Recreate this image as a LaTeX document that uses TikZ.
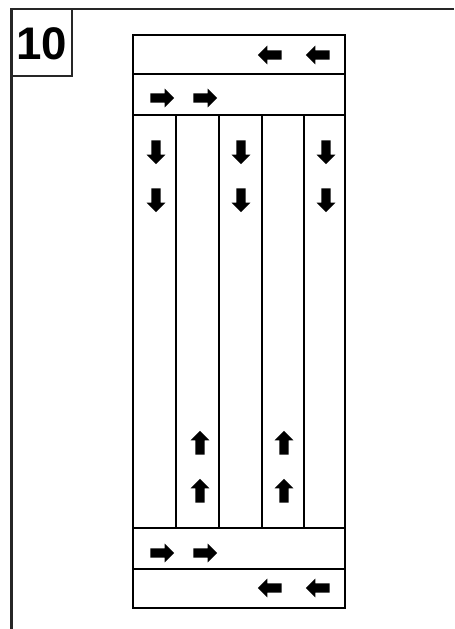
\documentclass[tikz,border=0pt]{standalone}
\usepackage{fontspec}
\setmainfont{Liberation Sans}
\usetikzlibrary{shapes.arrows}

\begin{document}
\begin{tikzpicture}[
    x=0.02cm, y=-0.02cm,
    frame/.style={line width=1.5pt, black!85},
    board/.style={draw, line width=0.8pt},
    flow/.style={single arrow, fill=black, draw=none, inner sep=2.4pt,
        minimum height=13.5pt, single arrow head extend=2.8pt, single arrow head indent=0pt},
    tag/.style={font=\bfseries\fontsize{26}{26}\selectfont}
]
\useasboundingbox (0,0) rectangle (454,629);

% page frame and step number
\draw[frame] (454,9) -- (11.5,9) -- (11.5,629);
\draw[frame] (11.5,9) rectangle (72,76);
\node[tag] (num) at (41.5,44) {10};

% boards
\draw[board] (133,35) rectangle (345,74);
\draw[board] (133,74) rectangle (345,115);
\draw[board] (133,115) rectangle (176,528);
\draw[board] (176,115) rectangle (219,528);
\draw[board] (219,115) rectangle (262,528);
\draw[board] (262,115) rectangle (304,528);
\draw[board] (304,115) rectangle (345,528);
\draw[board] (133,528) rectangle (345,569);
\draw[board] (133,569) rectangle (345,608);

% top rails
\node[flow, rotate=180] (tl1) at (272,55) {};
\node[flow, rotate=180] (tl2) at (320,55) {};
\node[flow] (tr1) at (160,98) {};
\node[flow] (tr2) at (203,98) {};

% stiles going down
\node[flow, rotate=-90] (d1a) at (156,150) {};
\node[flow, rotate=-90] (d1b) at (156,198) {};
\node[flow, rotate=-90] (d3a) at (241,150) {};
\node[flow, rotate=-90] (d3b) at (241,198) {};
\node[flow, rotate=-90] (d5a) at (326,150) {};
\node[flow, rotate=-90] (d5b) at (326,198) {};

% stiles going up
\node[flow, rotate=90] (u2a) at (200,445) {};
\node[flow, rotate=90] (u2b) at (200,493) {};
\node[flow, rotate=90] (u4a) at (284,445) {};
\node[flow, rotate=90] (u4b) at (284,493) {};

% bottom rails
\node[flow] (br1) at (160,553) {};
\node[flow] (br2) at (203,553) {};
\node[flow, rotate=180] (bl1) at (272,588) {};
\node[flow, rotate=180] (bl2) at (320,588) {};
\end{tikzpicture}
\end{document}
